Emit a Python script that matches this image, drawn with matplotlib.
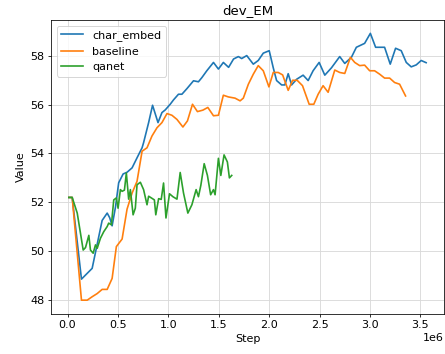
import numpy as np
import matplotlib
matplotlib.use("Agg")
import matplotlib.pyplot as plt

# step values in millions
char_step = [0.013, 0.046, 0.138, 0.244, 0.343, 0.393, 0.418, 0.442, 0.475, 0.507,
             0.551, 0.590, 0.640, 0.689, 0.739, 0.754, 0.804, 0.843, 0.897, 0.936,
             0.969, 1.018, 1.051, 1.100, 1.134, 1.184, 1.249, 1.298, 1.332, 1.381,
             1.447, 1.496, 1.545, 1.597, 1.646, 1.694, 1.727, 1.777, 1.842, 1.891,
             1.941, 2.000, 2.040, 2.073, 2.123, 2.155, 2.188, 2.222, 2.271, 2.336,
             2.386, 2.435, 2.495, 2.551, 2.617, 2.699, 2.749, 2.815, 2.864, 2.946,
             3.003, 3.055, 3.144, 3.200, 3.253, 3.309, 3.359, 3.408, 3.458, 3.507,
             3.556]
char_val = [52.2, 52.2, 48.86, 49.3, 51.26, 51.56, 51.37, 51.04, 51.8, 52.8,
            53.16, 53.23, 53.41, 53.82, 54.23, 54.44, 55.26, 55.97, 55.26, 55.67,
            55.78, 56.01, 56.19, 56.42, 56.42, 56.65, 56.97, 56.93, 57.1, 57.38,
            57.72, 57.45, 57.72, 57.52, 57.86, 57.96, 57.88, 58.0, 57.65, 57.8,
            58.1, 58.2, 57.5, 56.98, 56.8, 56.8, 57.26, 56.8, 57.03, 57.2,
            56.98, 57.38, 57.72, 57.2, 57.5, 57.96, 57.68, 57.93, 58.34, 58.5,
            58.91, 58.34, 58.34, 57.65, 58.3, 58.2, 57.72, 57.54, 57.62, 57.8,
            57.71]

base_step = [0.013, 0.046, 0.138, 0.195, 0.244, 0.294, 0.343, 0.393, 0.442, 0.484,
             0.541, 0.590, 0.640, 0.689, 0.739, 0.788, 0.837, 0.887, 0.936, 0.986,
             1.035, 1.085, 1.144, 1.189, 1.239, 1.288, 1.342, 1.391, 1.447, 1.496,
             1.545, 1.595, 1.661, 1.711, 1.743, 1.793, 1.842, 1.891, 1.941, 1.997,
             2.040, 2.089, 2.133, 2.188, 2.232, 2.277, 2.330, 2.396, 2.442, 2.485,
             2.534, 2.584, 2.650, 2.699, 2.749, 2.805, 2.848, 2.897, 2.946, 2.996,
             3.045, 3.095, 3.144, 3.194, 3.243, 3.293, 3.352]
base_val = [52.2, 52.2, 48.0, 48.0, 48.14, 48.27, 48.44, 48.44, 48.89, 50.19,
            50.5, 51.72, 52.38, 52.86, 54.09, 54.23, 54.71, 55.05, 55.26, 55.63,
            55.56, 55.39, 55.08, 55.33, 56.01, 55.71, 55.77, 55.88, 55.54, 55.56,
            56.38, 56.31, 56.26, 56.15, 56.26, 56.83, 57.24, 57.59, 57.38, 56.72,
            57.31, 57.31, 57.21, 56.58, 56.99, 56.99, 56.77, 56.01, 56.01, 56.42,
            56.77, 56.5, 57.41, 57.31, 57.27, 57.93, 57.72, 57.59, 57.61, 57.38,
            57.38, 57.24, 57.08, 57.08, 56.9, 56.83, 56.35]

qanet_step = [0.013, 0.046, 0.096, 0.155, 0.178, 0.211, 0.227, 0.254, 0.277, 0.294,
              0.326, 0.359, 0.393, 0.408, 0.435, 0.458, 0.484, 0.501, 0.524, 0.541,
              0.564, 0.583, 0.606, 0.623, 0.650, 0.672, 0.689, 0.722, 0.754, 0.788,
              0.804, 0.831, 0.861, 0.875, 0.903, 0.929, 0.952, 0.976, 1.011, 1.045,
              1.085, 1.117, 1.150, 1.193, 1.233, 1.275, 1.298, 1.322, 1.355, 1.387,
              1.419, 1.447, 1.463, 1.496, 1.520, 1.552, 1.585, 1.605, 1.628]
qanet_val = [52.2, 52.2, 51.56, 50.05, 50.15, 50.65, 50.05, 49.92, 50.26, 50.12,
             50.53, 50.8, 51.01, 51.15, 51.08, 52.1, 52.18, 51.76, 52.52, 52.45,
             52.5, 53.2, 52.13, 52.52, 51.49, 51.76, 52.72, 52.82, 52.52, 51.9,
             52.25, 52.18, 52.1, 51.49, 52.15, 52.12, 52.79, 51.36, 52.35, 52.23,
             52.13, 53.22, 52.38, 51.56, 51.9, 52.52, 52.23, 52.7, 53.58, 53.1,
             52.31, 52.52, 52.31, 53.8, 53.1, 53.94, 53.65, 53.0, 53.1]

plt.rcParams["font.size"] = 11.5

fig = plt.figure(figsize=(446 / 70, 354 / 70), dpi=70)
ax = fig.add_axes([51 / 446, 1 - 313.5 / 354, (444 - 51) / 446, (313.5 - 20) / 354])

ax.plot(np.array(char_step) * 1e6, char_val, label="char_embed", lw=1.7)
ax.plot(np.array(base_step) * 1e6, base_val, label="baseline", lw=1.7)
ax.plot(np.array(qanet_step) * 1e6, qanet_val, label="qanet", lw=1.7)

ax.set_title("dev_EM")
ax.set_xlabel("Step")
ax.set_ylabel("Value")
ax.grid(True, color="#d9d9d9", linewidth=0.9)
ax.legend(loc="upper left")

fig.savefig("out.png", dpi=70)
